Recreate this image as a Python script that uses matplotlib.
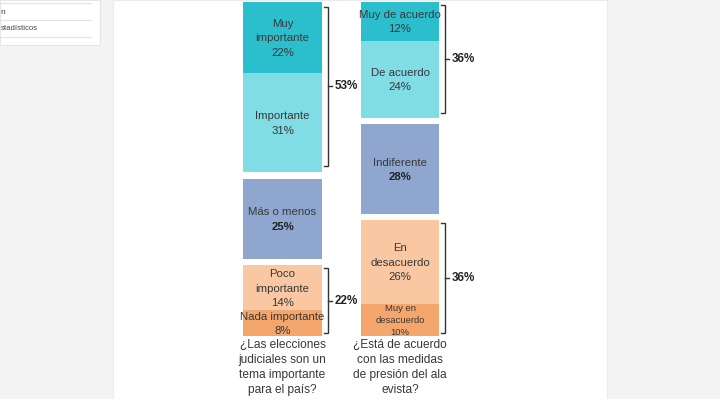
import matplotlib.pyplot as plt
from matplotlib.patches import Rectangle
from matplotlib import font_manager

# ==========================================
# datos de las dos columnas (en %)
# ==========================================
left_labels = ['Muy\nimportante', 'Importante', 'Más o menos', 'Poco\nimportante', 'Nada importante']
left_values = [22, 31, 25, 14, 8]
left_groups = [0, 0, 1, 2, 2]
left_colors = ['#2bbfcd', '#80dce5', '#8fa7cf', '#f9c8a2', '#f4a66c']
left_bold = [False, False, True, False, False]
left_question = '¿Las elecciones\njudiciales son un\ntema importante\npara el país?'

right_labels = ['Muy de acuerdo', 'De acuerdo', 'Indiferente', 'En\ndesacuerdo', 'Muy en\ndesacuerdo']
right_values = [12, 24, 28, 26, 10]
right_groups = [0, 0, 1, 2, 2]
right_colors = ['#2bbfcd', '#80dce5', '#8fa7cf', '#f9c8a2', '#f4a66c']
right_bold = [False, False, True, False, False]
right_question = '¿Está de acuerdo\ncon las medidas\nde presión del ala\nevista?'

GAP = 2
BAR_W = 0.672
PX = 3.21  # pixeles por punto porcentual

names = {f.name for f in font_manager.fontManager.ttflist}
FONT = 'Liberation Sans Narrow' if 'Liberation Sans Narrow' in names else 'Liberation Sans'
plt.rcParams['font.family'] = [FONT, 'DejaVu Sans']

fig = plt.figure(figsize=(7.2, 3.99), dpi=100, facecolor='#f4f4f4')

# panel blanco central y tarjeta de la izquierda
fig.patches.append(Rectangle((113 / 720, 0), (607 - 113) / 720, 1, transform=fig.transFigure,
                             facecolor='white', edgecolor='#ebebeb', lw=0.8, zorder=-2))
fig.patches.append(Rectangle((0, 1 - 45 / 399), 100 / 720, 45 / 399, transform=fig.transFigure,
                             facecolor='white', edgecolor='#e6e6e6', lw=0.8, zorder=-2))
for yy in [3, 20, 37]:
    fig.lines.append(plt.Line2D([0, 91 / 720], [1 - yy / 399] * 2, transform=fig.transFigure,
                                color='#e3e3e3', lw=0.8, zorder=-1))
fig.text(0.5 / 720, 1 - 12 / 399, 'n', fontsize=6, color='#444444', va='center',
         family=['Liberation Sans', 'DejaVu Sans'])
fig.text(0.5 / 720, 1 - 29 / 399, 'stadísticos', fontsize=5.6, color='#444444', va='center',
         family=['Liberation Sans', 'DejaVu Sans'])

ax = fig.add_axes([0, 0, 1, 1])
ax.set_facecolor('none')
ax.set_xlim(-2.404, 3.723)
ax.set_ylim((399 - 2) / PX, -2 / PX)
ax.axis('off')


def draw_column(x, labels, values, groups, colors, bold, question, small_last=False):
    bottoms = []
    pos = 0
    prev = groups[0]
    for v, g in zip(values, groups):
        if g != prev:
            pos += GAP
            prev = g
        bottoms.append(pos)
        pos += v
    ax.bar([x] * len(values), values, bottom=bottoms, width=BAR_W, color=colors,
           edgecolor='none', zorder=2)
    for i, (lab, v, b) in enumerate(zip(labels, values, bottoms)):
        mid = b + v / 2
        small = small_last and i == len(values) - 1
        fs = 6.8 if small else 8.2
        lh = (12 if small else 14.5) / PX
        lines = (lab + '\n' + f'{v}%').split('\n')
        nl = len(lines)
        for k, ln in enumerate(lines):
            is_pct = k == nl - 1
            ax.text(x, mid + (k - (nl - 1) / 2) * lh + 0.3, ln, ha='center', va='center',
                    fontsize=fs, fontweight='bold' if (bold[i] and is_pct) else 'normal',
                    color='#222222' if (bold[i] and is_pct) else '#383838', zorder=3)
    ax.text(x, bottoms[-1] + values[-1] + 1.1, question, ha='center', va='top',
            fontsize=8.6, color='#383838', linespacing=1.32)
    return bottoms


def bracket(x, top, bottom, label):
    bx = x + BAR_W / 2 + 0.05
    tick = 0.035
    ax.plot([bx - tick, bx, bx, bx - tick], [top, top, bottom, bottom], color='#333333', lw=1.0,
            solid_joinstyle='miter')
    mid = (top + bottom) / 2
    ax.plot([bx, bx + tick], [mid, mid], color='#333333', lw=1.0)
    ax.text(bx + tick + 0.02, mid, label, ha='left', va='center', fontsize=8.4,
            fontweight='bold', color='#222222')


lb = draw_column(0, left_labels, left_values, left_groups, left_colors, left_bold, left_question)
rb = draw_column(1, right_labels, right_values, right_groups, right_colors, right_bold,
                 right_question, small_last=True)

# llaves con los totales
bracket(0, lb[0] + 1.5, lb[1] + left_values[1] - 2, f'{left_values[0] + left_values[1]}%')
bracket(0, lb[3] + 1, lb[4] + left_values[4] - 1, f'{left_values[3] + left_values[4]}%')
bracket(1, rb[0] + 1, rb[1] + right_values[1] - 1.5, f'{right_values[0] + right_values[1]}%')
bracket(1, rb[3] + 1, rb[4] + right_values[4] - 1, f'{right_values[3] + right_values[4]}%')

plt.savefig('out.png', dpi=100, facecolor=fig.get_facecolor())
